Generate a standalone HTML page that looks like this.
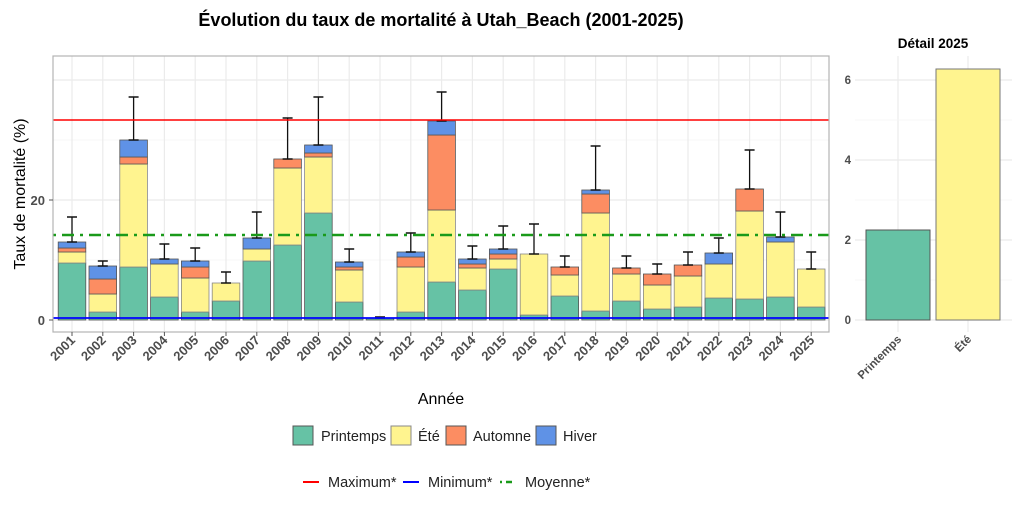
<!DOCTYPE html>
<html><head><meta charset="utf-8"><style>
body{margin:0;background:#fff;width:1024px;height:512px;overflow:hidden}
svg{font-family:"Liberation Sans",sans-serif}
</style></head><body>
<svg id="s" width="1024" height="512" xmlns="http://www.w3.org/2000/svg">
<text x="441" y="26" text-anchor="middle" font-size="18" font-weight="bold">Évolution du taux de mortalité à Utah_Beach (2001-2025)</text>
<g id="main"></g>
<text x="441" y="404" text-anchor="middle" font-size="16">Année</text>
<text transform="translate(25,194) rotate(-90)" text-anchor="middle" font-size="16">Taux de mortalité (%)</text>
<text x="45" y="205" text-anchor="end" font-size="13" font-weight="bold" fill="#4d4d4d">20</text>
<text x="45" y="325" text-anchor="end" font-size="13" font-weight="bold" fill="#4d4d4d">0</text>
<g font-size="14.5" fill="#222">
<rect x="293" y="426" width="20" height="19" fill="#66c2a5" stroke="#555"/><text x="321" y="441">Printemps</text>
<rect x="391" y="426" width="20" height="19" fill="#fff48f" stroke="#888"/><text x="418" y="441">Été</text>
<rect x="446" y="426" width="20" height="19" fill="#fc8d62" stroke="#555"/><text x="473" y="441">Automne</text>
<rect x="536" y="426" width="20" height="19" fill="#5f92e6" stroke="#555"/><text x="563" y="441">Hiver</text>
<line x1="303" y1="482" x2="319" y2="482" stroke="#f00" stroke-width="2"/><text x="328" y="487">Maximum*</text>
<line x1="403" y1="482" x2="419" y2="482" stroke="#00f" stroke-width="2"/><text x="428" y="487">Minimum*</text>
<line x1="500" y1="482" x2="516" y2="482" stroke="#1a9a1a" stroke-width="2.5" stroke-dasharray="2,4,6,4"/><text x="525" y="487">Moyenne*</text>
</g>
<g>
<text x="933" y="48" text-anchor="middle" font-size="13.5" font-weight="bold">Détail 2025</text>
<g stroke="#ebebeb" stroke-width="1.2">
<line x1="855" x2="1012" y1="320" y2="320"/><line x1="855" x2="1012" y1="240" y2="240"/><line x1="855" x2="1012" y1="160" y2="160"/><line x1="855" x2="1012" y1="80" y2="80"/>
<line x1="898" x2="898" y1="56" y2="332"/><line x1="968" x2="968" y1="56" y2="332"/>
</g>
<g stroke="#f4f4f4" stroke-width="0.8">
<line x1="855" x2="1012" y1="280" y2="280"/><line x1="855" x2="1012" y1="200" y2="200"/><line x1="855" x2="1012" y1="120" y2="120"/>
</g>
<rect x="866" y="230" width="64" height="90" fill="#66c2a5" stroke="#555"/>
<rect x="936" y="69" width="64" height="251" fill="#fff48f" stroke="#777"/>
<g font-size="11.5" font-weight="bold" fill="#4d4d4d" text-anchor="end">
<text x="851" y="324">0</text><text x="851" y="244">2</text><text x="851" y="164">4</text><text x="851" y="84">6</text>
<text transform="translate(902,340) rotate(-45)">Printemps</text>
<text transform="translate(972,340) rotate(-45)">Été</text>
</g>
</g>
</svg>
<script>
const g=document.getElementById('main');let h='';
const X0=53,X1=829,Y0=56,Y1=332;
const grid=(a,b,c,d,col,w)=>`<line x1="${a}" y1="${b}" x2="${c}" y2="${d}" stroke="${col}" stroke-width="${w}"/>`;
[260,140].forEach(y=>h+=grid(X0,y,X1,y,'#f4f4f4',0.8));
[320,200,80].forEach(y=>h+=grid(X0,y,X1,y,'#ebebeb',1.2));
const cx=i=>72+i*30.8;
for(let i=0;i<25;i++)h+=grid(cx(i),Y0,cx(i),Y1,'#ebebeb',1.2);
const D=[[263,252,248,242,217],[312,294,279,266,261],[267,164,157,140,97],[297,264,null,259,244],[312,278,267,261,248],[301,283,null,null,272],[261,249,null,238,212],[245,168,159,null,118],[213,157,153,145,97],[302,270,267,262,249],[318,null,null,null,317],[312,267,257,252,233],[282,210,135,121,92],[290,268,264,259,246],[269,259,254,249,226],[315,254,null,null,224],[296,275,267,null,256],[311,213,194,190,146],[301,274,268,null,256],[309,285,274,null,264],[307,276,265,null,252],[298,264,null,253,238],[299,211,189,null,150],[297,242,null,237,212],[307,269,null,null,252]];
const cols=['#66c2a5','#fff48f','#fc8d62','#5f92e6'];const st=['#555','#888','#555','#555'];
D.forEach((d,i)=>{let x=cx(i)-13.8,prev=320,top=320;
 for(let k=0;k<4;k++){if(d[k]==null)continue;h+=`<rect x="${x}" y="${d[k]}" width="27.6" height="${prev-d[k]}" fill="${cols[k]}" stroke="${st[k]}" stroke-width="0.8"/>`;prev=d[k];top=d[k];}
 const e=d[4],c=cx(i);h+=grid(c,top,c,e,'#111',1.3)+grid(c-5,e,c+5,e,'#111',1.5)+grid(c-5,top,c+5,top,'#111',1.5);
 h+=`<text transform="translate(${c+4},341) rotate(-45)" text-anchor="end" font-size="13" font-weight="bold" fill="#4d4d4d">${2001+i}</text>`;
});
h+=grid(X0,120,X1,120,'#f00',1.6)+grid(X0,318,X1,318,'#00f',1.8);
h+=`<line x1="${X0}" y1="235" x2="${X1}" y2="235" stroke="#1a9a1a" stroke-width="2.5" stroke-dasharray="3,6,12,6"/>`;
h+=`<rect x="${X0}" y="${Y0}" width="${X1-X0}" height="${Y1-Y0}" fill="none" stroke="#b3b3b3" stroke-width="1.2"/>`;
[200,320].forEach(y=>h+=grid(X0-4,y,X0,y,'#555',1));
for(let i=0;i<25;i++)h+=grid(cx(i),Y1,cx(i),Y1+4,'#555',1);
g.innerHTML=h;
</script>
</body></html>
